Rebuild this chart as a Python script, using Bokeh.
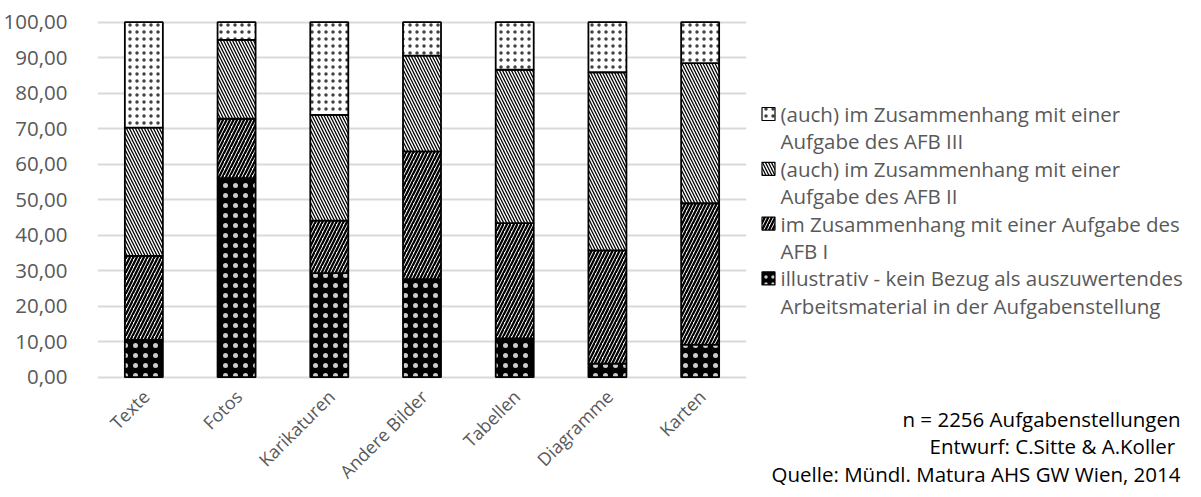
import math
from bokeh.plotting import figure
from bokeh.models import Range1d, ColumnDataSource, FixedTicker
from bokeh.layouts import row
from bokeh.embed import file_html
from bokeh.resources import INLINE
from bokeh.core.properties import value

# ---------------- data ----------------
categories = ["Texte", "Fotos", "Karikaturen", "Andere Bilder", "Tabellen", "Diagramme", "Karten"]
illustrativ = [10.5, 56.1, 29.3, 27.6, 10.9, 3.8, 9.2]
afb_1 = [23.7, 16.7, 14.8, 36.0, 32.5, 31.9, 39.8]
afb_2 = [36.1, 22.2, 29.8, 27.0, 43.2, 50.2, 39.5]
afb_3 = [29.7, 5.0, 26.1, 9.4, 13.4, 14.1, 11.5]

series_names = [
    "illustrativ - kein Bezug als auszuwertendes\nArbeitsmaterial in der Aufgabenstellung",
    "im Zusammenhang mit einer Aufgabe des\nAFB I",
    "(auch) im Zusammenhang mit einer\nAufgabe des AFB II",
    "(auch) im Zusammenhang mit einer\nAufgabe des AFB III",
]
y_ticks = [0, 10, 20, 30, 40, 50, 60, 70, 80, 90, 100]
y_tick_labels = ["0,00", "10,00", "20,00", "30,00", "40,00", "50,00",
                 "60,00", "70,00", "80,00", "90,00", "100,00"]
notes = ["n = 2256 Aufgabenstellungen",
         "Entwurf: C.Sitte  & A.Koller",
         "Quelle: Mündl. Matura AHS GW Wien, 2014"]

# ---------------- styles ----------------
FONT = "Open Sans"
GRAY = "#595959"

keys = ["illus", "afb1", "afb2", "afb3"]
fill_colors = ["black", "white", "white", "white"]
hatch_patterns = ["dot", "right_diagonal_line", "left_diagonal_line", "dot"]
hatch_colors = ["white", "black", "black", "black"]
hatch_alphas = [0.8, 1.0, 1.0, 0.75]
hatch_scales = [10, 7, 6, 7]
hatch_weights = [0.5, 2.3, 1.3, 0.5]

source = ColumnDataSource(dict(cat=categories, illus=illustrativ, afb1=afb_1,
                               afb2=afb_2, afb3=afb_3))

# pixel layout of the main plot (frame spans full height)
H = 489
px_top100 = 21.7     # screen y of value 100
px_zero = 376.7      # screen y of value 0
ppu = (px_zero - px_top100) / 100.0
y_end = 100 + px_top100 / ppu
y_start = -(H - px_zero) / ppu

p = figure(x_range=categories, y_range=Range1d(y_start, y_end), width=748, height=H,
           output_backend="svg", toolbar_location=None, x_axis_location=None,
           min_border_left=97, min_border_right=2, min_border_top=0, min_border_bottom=0)
p.outline_line_color = None

p.vbar_stack(keys, x="cat", width=0.41, source=source,
             fill_color=fill_colors, line_color="black", line_width=1.8,
             hatch_pattern=hatch_patterns, hatch_color=hatch_colors,
             hatch_alpha=hatch_alphas, hatch_scale=hatch_scales,
             hatch_weight=hatch_weights)

p.xgrid.grid_line_color = None
p.ygrid.grid_line_color = "#d9d9d9"
p.ygrid.grid_line_width = 2
p.yaxis.ticker = FixedTicker(ticks=y_ticks)
p.yaxis.major_label_overrides = {t: l for t, l in zip(y_ticks, y_tick_labels)}
p.yaxis.axis_line_color = None
p.yaxis.major_tick_line_color = None
p.yaxis.minor_tick_line_color = None
p.yaxis.major_label_standoff = 24
p.yaxis.major_label_text_font = FONT
p.yaxis.major_label_text_font_size = "20.5px"
p.yaxis.major_label_text_color = GRAY

# rotated category labels under the baseline
p.text(x=categories, y=[-16 / ppu] * len(categories), text=categories,
       angle=math.pi / 4, x_offset=2, text_align="right", text_baseline="middle",
       text_font=value(FONT), text_font_size="18px", text_color=GRAY)

# ---------------- legend + notes panel ----------------
W2 = 437
p2 = figure(width=W2, height=H, x_range=Range1d(0, W2), y_range=Range1d(H, 0),
            output_backend="svg", toolbar_location=None, x_axis_location=None,
            y_axis_location=None, min_border=0)
p2.outline_line_color = None
p2.grid.visible = False

line_h = 27.4
y0 = 113.5
order = [3, 2, 1, 0]  # top to bottom in legend
lx, ly, ltxt = [], [], []
sq_y, sq_idx = [], []
k = 0
for i in order:
    lines = series_names[i].split("\n")
    sq_y.append(y0 + k * line_h)
    sq_idx.append(i)
    for ln in lines:
        lx.append(32)
        ly.append(y0 + k * line_h)
        ltxt.append(ln)
        k += 1

for yy, i in zip(sq_y, sq_idx):
    p2.rect(x=[20], y=[yy], width=13, height=13, fill_color=fill_colors[i],
            line_color="black", line_width=1.2,
            hatch_pattern=hatch_patterns[i], hatch_color=hatch_colors[i],
            hatch_alpha=hatch_alphas[i], hatch_scale=min(hatch_scales[i], 7),
            hatch_weight=hatch_weights[i])

p2.text(x=lx, y=ly, text=ltxt, text_align="left", text_baseline="middle",
        text_font=value(FONT), text_font_size="20.5px", text_color=GRAY)

p2.text(x=[432] * len(notes), y=[418 + 27.5 * j for j in range(len(notes))], text=notes,
        text_align="right", text_baseline="middle",
        text_font=value(FONT), text_font_size="20.5px", text_color="black")

layout = row(p, p2)
open("out.html", "w").write(file_html(layout, INLINE))
